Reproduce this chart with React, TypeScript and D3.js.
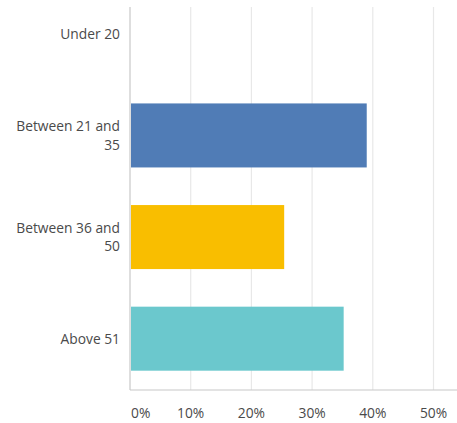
import React from "react";
import * as d3 from "d3";

const categories = ["Under 20", "Between 21 and 35", "Between 36 and 50", "Above 51"];
const labelLines = [["Under 20"], ["Between 21 and", "35"], ["Between 36 and", "50"], ["Above 51"]];
const values = [0, 39.0, 25.4, 35.2];
const colors = ["#507cb6", "#507cb6", "#f9be00", "#6bc8cd"];
const ticks = [0, 10, 20, 30, 40, 50];

const W = 457;
const H = 423;

export default function App() {
  const x = d3.scaleLinear().domain([0, 10]).range([130, 190.7]);
  const y = d3
    .scaleBand<string>()
    .domain(categories)
    .range([-17.5, 390])
    .paddingInner(0.37)
    .paddingOuter(0.19);
  const plotTop = 7;
  const plotBottom = 390;
  const font = "'Open Sans', sans-serif";
  return (
    <svg
      width={W}
      height={H}
      style={{ position: "absolute", left: 0, top: 0, background: "#fff" }}
    >
      {ticks.map((t) => (
        <line
          key={"g" + t}
          x1={x(t)}
          x2={x(t)}
          y1={plotTop}
          y2={plotBottom}
          stroke={t === 0 ? "#c8c8c8" : "#e8e8e8"}
          strokeWidth={1.2}
        />
      ))}
      {categories.map((c, i) => (
        <rect
          key={c}
          x={x(0) + 1}
          y={y(c)}
          width={Math.max(0, x(values[i]) - x(0) - 1)}
          height={y.bandwidth()}
          fill={colors[i]}
        />
      ))}
      <line x1={x(0)} x2={W} y1={plotBottom} y2={plotBottom} stroke="#c8c8c8" strokeWidth={1.2} />
      {categories.map((c, i) => {
        const lines = labelLines[i];
        const cy = (y(c) as number) + y.bandwidth() / 2;
        const lh = 18.5;
        const start = cy - ((lines.length - 1) * lh) / 2;
        return (
          <text
            key={"l" + c}
            x={120}
            textAnchor="end"
            fontFamily={font}
            fontSize={13.8}
            fill="#4a4a4a"
          >
            {lines.map((ln, k) => (
              <tspan key={k} x={120} y={start + k * lh} dy="0.35em">
                {ln}
              </tspan>
            ))}
          </text>
        );
      })}
      {ticks.map((t) => (
        <text
          key={"t" + t}
          x={t === 0 ? x(t) + 1 : x(t)}
          y={413}
          dy="0.35em"
          textAnchor={t === 0 ? "start" : "middle"}
          fontFamily={font}
          fontSize={13.8}
          fill="#4a4a4a"
        >
          {t + "%"}
        </text>
      ))}
    </svg>
  );
}
